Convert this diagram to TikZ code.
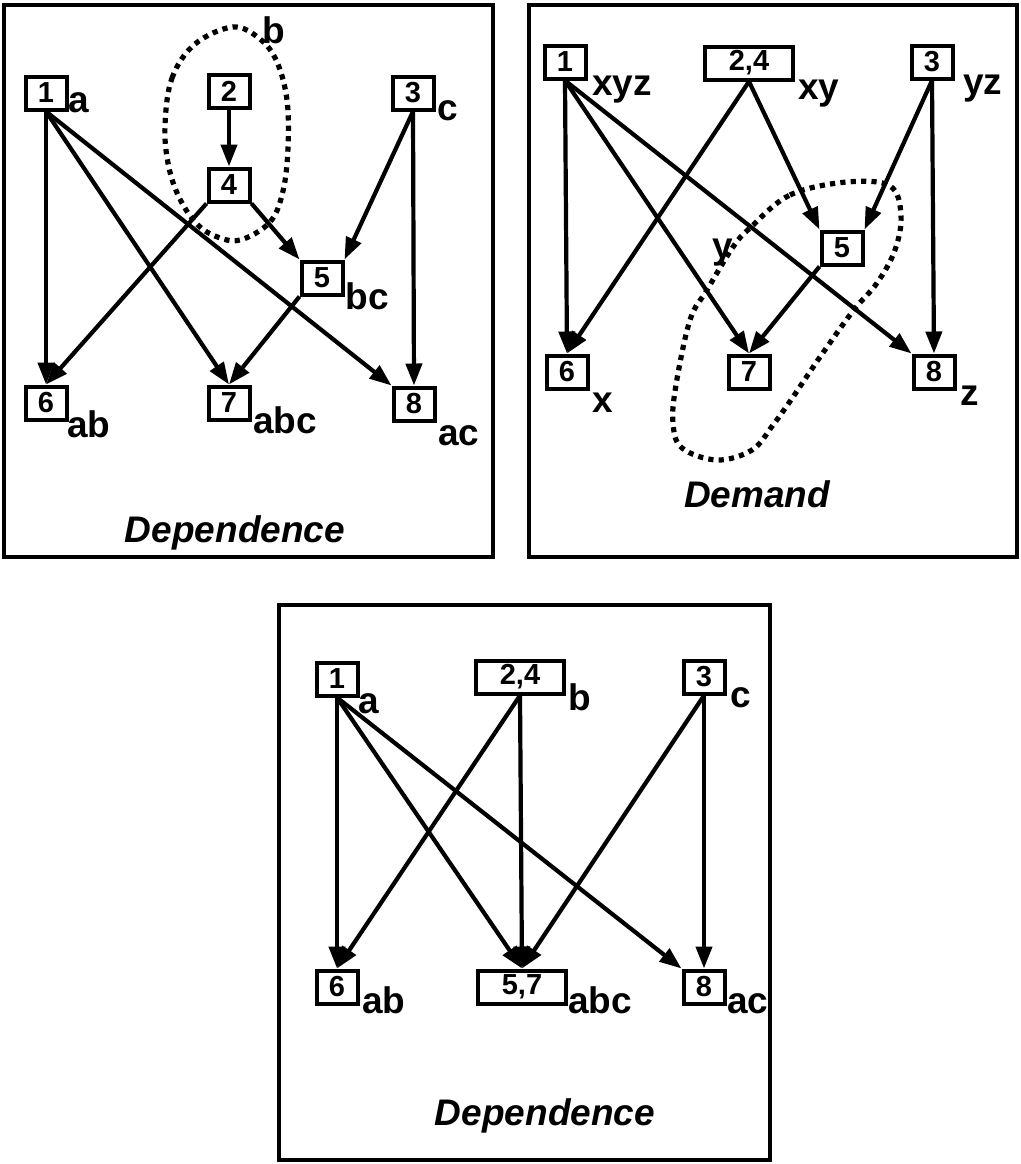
\documentclass[tikz,border=0pt]{standalone}
\usepackage{fontspec}
\setmainfont{Liberation Sans}
\usetikzlibrary{arrows.meta}

\newcommand{\boxnumfont}{\fontsize{14.5}{16}\selectfont\bfseries}
\newcommand{\settagfont}{\fontsize{18.5}{21}\selectfont\bfseries}
\newcommand{\panelfont}{\fontsize{18.5}{21}\selectfont\bfseries\itshape}

\begin{document}
\begin{tikzpicture}[x=0.5pt, y=-0.5pt,
        stmt/.style={draw, line width=2pt, fill=white, minimum width=20.5pt, minimum height=16.5pt, inner sep=0pt, font=\boxnumfont},
        stmtwide/.style={stmt, minimum width=44pt},
        tag/.style={anchor=base west, inner sep=0pt, font=\settagfont},
        paneltitle/.style={anchor=base, inner sep=0pt, font=\panelfont},
        dep/.style={line width=2.1pt, -{Triangle[length=11pt, width=8pt]}},
        cluster/.style={line width=2.6pt, dash pattern=on 2.6pt off 2.6pt},
        panelframe/.style={line width=1.8pt}
    ]
    \useasboundingbox (0,0) rectangle (1021,1164);

    % dependence, one box per statement
    \draw[panelframe] (4,5) rectangle (493,557);
    \draw[cluster] plot[smooth cycle, tension=0.6] coordinates {(165,125) (172,78) (195,44) (233,27) (260,39) (277,62) (287,100) (288,148) (283,191) (270,222) (240,240) (215,236) (195,222) (178,195) (168,163)};
    \node[stmt] (d1) at (46,93) {1};
    \node[stmt] (d2) at (229,91) {2};
    \node[stmt] (d3) at (413,93) {3};
    \node[stmt] (d4) at (229,185) {4};
    \node[stmt] (d5) at (322,278) {5};
    \node[stmt] (d6) at (46,403) {6};
    \node[stmt] (d7) at (229,403) {7};
    \node[stmt] (d8) at (414,404) {8};
    \node[tag] (da) at (68,112) {a};
    \node[tag] (db) at (262,43) {b};
    \node[tag] (dc) at (437,120) {c};
    \node[tag] (dbc) at (345,309) {bc};
    \node[tag] (dab) at (67,437) {ab};
    \node[tag] (dabc) at (253,433) {abc};
    \node[tag] (dac) at (438,445) {ac};
    \node[paneltitle] (dtitle) at (235,542) {Dependence};
    \draw[dep] (d1.south) -- (d6.north);
    \draw[dep] (d1.south) -- (d7.north);
    \draw[dep] (d1.south) -- (d8.north west);
    \draw[dep] (d2.south) -- (d4.north);
    \draw[dep] (d3.south) -- (d5.north east);
    \draw[dep] (d3.south) -- (d8.north);
    \draw[dep] (d4.south east) -- (d5.north west);
    \draw[dep] (d4.south west) -- (d6.north);
    \draw[dep] (d5.south west) -- (d7.north);

    % demand
    \draw[panelframe] (529,5) rectangle (1017,557);
    \draw[cluster] plot[smooth cycle, tension=0.6] coordinates {(750,228) (790,195) (847,182) (890,186) (901,215) (895,250) (877,283) (853,311) (820,357) (793,397) (773,425) (752,450) (717,460) (682,448) (673,423) (676,385) (690,320) (707,290) (733,247)};
    \node[stmt] (m1) at (565,62) {1};
    \node[stmtwide] (m24) at (749,63) {2,4};
    \node[stmt] (m3) at (932,62) {3};
    \node[stmt] (m5) at (842,248) {5};
    \node[stmt] (m6) at (567,372) {6};
    \node[stmt] (m7) at (749,372) {7};
    \node[stmt] (m8) at (934,372) {8};
    \node[tag] (mxyz) at (592,95) {xyz};
    \node[tag] (mxy) at (798,99) {xy};
    \node[tag] (myz) at (963,94) {yz};
    \node[tag] (my) at (712,258) {y};
    \node[tag] (mx) at (592,412) {x};
    \node[tag] (mz) at (960,405) {z};
    \node[paneltitle] (mtitle) at (757,507) {Demand};
    \draw[dep] (m1.south) -- (m6.north);
    \draw[dep] (m1.south) -- (m7.north);
    \draw[dep] (m1.south) -- (m8.north west);
    \draw[dep] (m24.south) -- (m6.north);
    \draw[dep] (m24.south) -- (m5.north west);
    \draw[dep] (m3.south) -- (m5.north east);
    \draw[dep] (m3.south) -- (m8.north);
    \draw[dep] (m5.south west) -- (m7.north);

    % dependence after merging
    \draw[panelframe] (279,605) rectangle (770,1160);
    \node[stmt] (c1) at (337,679) {1};
    \node[stmtwide] (c24) at (520,677) {2,4};
    \node[stmt] (c3) at (704,677) {3};
    \node[stmt] (c6) at (337,987) {6};
    \node[stmtwide] (c57) at (522,987) {5,7};
    \node[stmt] (c8) at (704,987) {8};
    \node[tag] (ca) at (358,713) {a};
    \node[tag] (cb) at (568,710) {b};
    \node[tag] (cc) at (730,707) {c};
    \node[tag] (cab) at (362,1013) {ab};
    \node[tag] (cabc) at (568,1013) {abc};
    \node[tag] (cac) at (727,1013) {ac};
    \node[paneltitle] (ctitle) at (545,1125) {Dependence};
    \draw[dep] (c1.south) -- (c6.north);
    \draw[dep] (c1.south) -- (c57.north);
    \draw[dep] (c1.south) -- (c8.north west);
    \draw[dep] (c24.south) -- (c6.north);
    \draw[dep] (c24.south) -- (c57.north);
    \draw[dep] (c3.south) -- (c57.north);
    \draw[dep] (c3.south) -- (c8.north);
\end{tikzpicture}
\end{document}
